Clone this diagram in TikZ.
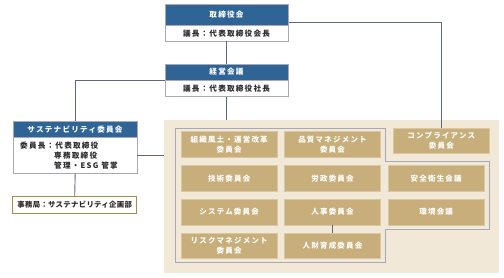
\documentclass[tikz,border=0pt]{standalone}
\usepackage{fontspec}
\setmainfont{Noto Sans CJK JP}
\newfontfamily\jpA{Noto Sans CJK JP}[LetterSpace=16]
\newfontfamily\jpB{Noto Sans CJK JP}[LetterSpace=4]
\definecolor{hblue}{HTML}{2E6496}
\definecolor{tan}{HTML}{C8AE7A}
\definecolor{bgc}{HTML}{F1E8D8}
\definecolor{linec}{HTML}{5F6585}
\definecolor{outl}{HTML}{A7A9B4}
\definecolor{gold}{HTML}{A88A4C}
\definecolor{txt}{HTML}{2B2B2B}
\newcommand\bx[6]{\node[#1, minimum width={(#4)-(#2)}, minimum height={(#5)-(#3)}] (#6) at ({((#2)+(#4))/2},{((#3)+(#5))/2})}
\begin{document}
\begin{tikzpicture}[x=1pt,y=-1pt,
  hd/.style={draw=outl, fill=hblue, text=white, font=\jpA\fontsize{7.6}{9.5}\selectfont\bfseries, inner sep=0pt},
  bd/.style={draw=outl, fill=white, text=txt, font=\jpA\fontsize{7.6}{10}\selectfont\bfseries, inner sep=0pt},
  tanbox/.style={fill=tan, draw=tan!70!white, line width=0.6pt, text=white, font=\jpA\fontsize{7.5}{9.8}\selectfont\bfseries, align=center, inner sep=0pt},
  conn/.style={draw=linec, line width=0.9pt},
  ]
\useasboundingbox (0,0) rectangle (504,278);
% background
\bx{fill=bgc, inner sep=0pt}{164}{120}{499}{273.3}{bg} {};
% inner outline
\draw[outl, line width=0.8pt] (175.7,128.3) -- (385.7,128.3) -- (385.7,161) -- (489.3,161) -- (489.3,229) -- (385.7,229) -- (385.7,262.3) -- (175.7,262.3) -- cycle;
% top
\bx{hd}{164.7}{4.3}{288.3}{25}{tophd} {取締役会};
\bx{bd}{164.7}{25}{288.3}{41.3}{topbd} {議長：代表取締役会長};
\bx{hd}{164.7}{64}{288.3}{80}{kehd} {経営会議};
\bx{bd}{164.7}{80}{288.3}{96.7}{kebd} {議長：代表取締役社長};
% sustainability
\bx{hd}{13.3}{121}{136.7}{137.3}{suhd} {サステナビリティ委員会};
\node[draw=outl, fill=white, text=txt, font=\jpA\fontsize{7.6}{10}\selectfont\bfseries, inner ysep=0pt, inner xsep=6.7pt, text width=110pt, align=left, minimum height=36pt, anchor=north west] (subd) at (13.3,137.3)
  {委員長：代表取締役\\\hphantom{委員長：}専務取締役\\\hphantom{委員長：}管理・ESG\hspace{3pt}管掌};
\bx{draw=gold, line width=1.4pt, fill=white, text=txt, font=\jpB\fontsize{7.4}{9}\selectfont\bfseries, inner sep=0pt}{12.7}{196.7}{136.7}{213.3}{jimu} {事務局：サステナビリティ企画部};
% tan boxes
\bx{tanbox}{181}{131.7}{277.3}{157.7}{a1} {組織風土・運営改革\\委員会};
\bx{tanbox}{284.3}{131.7}{380.7}{157.7}{a2} {品質マネジメント\\委員会};
\bx{tanbox}{393.3}{128.3}{489.3}{153.3}{comp} {コンプライアンス\\委員会};
\bx{tanbox}{181}{165.7}{277.3}{191}{b1} {技術委員会};
\bx{tanbox}{284.3}{165.7}{380.7}{191}{b2} {労政委員会};
\bx{tanbox}{388.3}{165.7}{484}{191}{b3} {安全衛生会議};
\bx{tanbox}{181}{199.3}{277.3}{225}{c1} {システム委員会};
\bx{tanbox}{284.3}{199.3}{380.7}{225}{c2} {人事委員会};
\bx{tanbox}{388.3}{199.3}{484}{225}{c3} {環境会議};
\bx{tanbox}{181}{233.3}{277.3}{258.3}{d1} {リスクマネジメント\\委員会};
\bx{tanbox}{284.3}{233.3}{380.7}{258.3}{d2} {人財育成委員会};
% connectors
\draw[conn] (topbd.south) -- (kehd.north);
\draw[conn] (kebd.south) -- (kebd.south |- bg.north);
\draw[conn] ([yshift=2.3pt]tophd.south east) -| (comp.north);
\draw[conn] (kehd.south west) -| (suhd.north);
\draw[conn] (subd.east) -- (subd.east -| bg.west);
\draw[conn] (subd.south) -- (jimu.north);
\draw[conn] (c2.south) -- (d2.north);
\end{tikzpicture}
\end{document}
